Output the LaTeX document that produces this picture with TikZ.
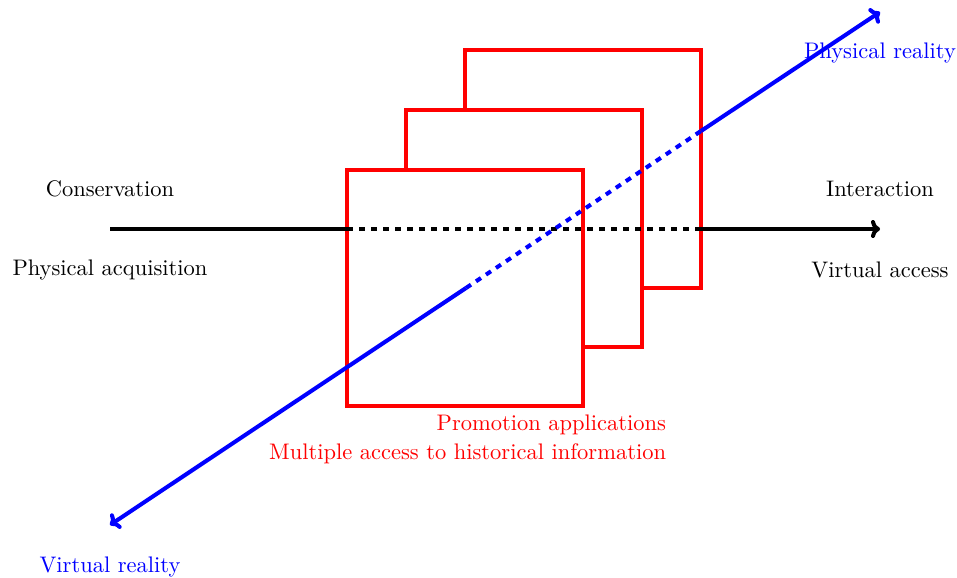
\documentclass[tikz,border=0pt]{standalone}
\usetikzlibrary{arrows.meta}
\begin{document}
\begin{tikzpicture}[x=0.4444pt,y=-0.4444pt,
  redbox/.style={red,line width=1.8pt},
  axisline/.style={line width=1.8pt},
  dotline/.style={line width=1.8pt,dash pattern=on 2.67pt off 2.67pt},
  tip/.style={-{To[length=4pt,width=8pt]}}]
\useasboundingbox (0,0) rectangle (957,577);
% red frames
\draw[redbox] (347,170) rectangle (583,406);
\draw[redbox] (406,170) -- (406,110) -- (642,110) -- (642,347) -- (583,347);
\draw[redbox] (465,110) -- (465,50) -- (701,50) -- (701,288) -- (642,288);
% horizontal axis
\coordinate (L) at (110,229);
\coordinate (R) at (880,229);
\coordinate (A) at (347,229);
\coordinate (B) at (701,229);
\draw[axisline] (L) -- (A);
\draw[dotline] (A) -- (B);
\draw[axisline,tip] (B) -- (R);
% diagonal axis
\coordinate (VL) at (110,525);
\coordinate (PR) at (880,12);
\coordinate (C) at (466,288);
\coordinate (D) at (701,131);
\draw[axisline,blue,tip] (C) -- (VL);
\draw[dotline,blue] (C) -- (D);
\draw[axisline,blue,tip] (D) -- (PR);
% labels
\node (cons) at (110,189) {Conservation};
\node (pacq) at (110,270) {Physical acquisition};
\node (inter) at (880,189) {Interaction};
\node (vacc) at (880,270) {Virtual access};
\node[blue] (preal) at (880,53) {Physical reality};
\node[blue] (vreal) at (110,567) {Virtual reality};
\node[red,anchor=east] (promo) at (674,425) {Promotion applications};
\node[red,anchor=east] (multi) at (674,454) {Multiple access to historical information};
\end{tikzpicture}
\end{document}
